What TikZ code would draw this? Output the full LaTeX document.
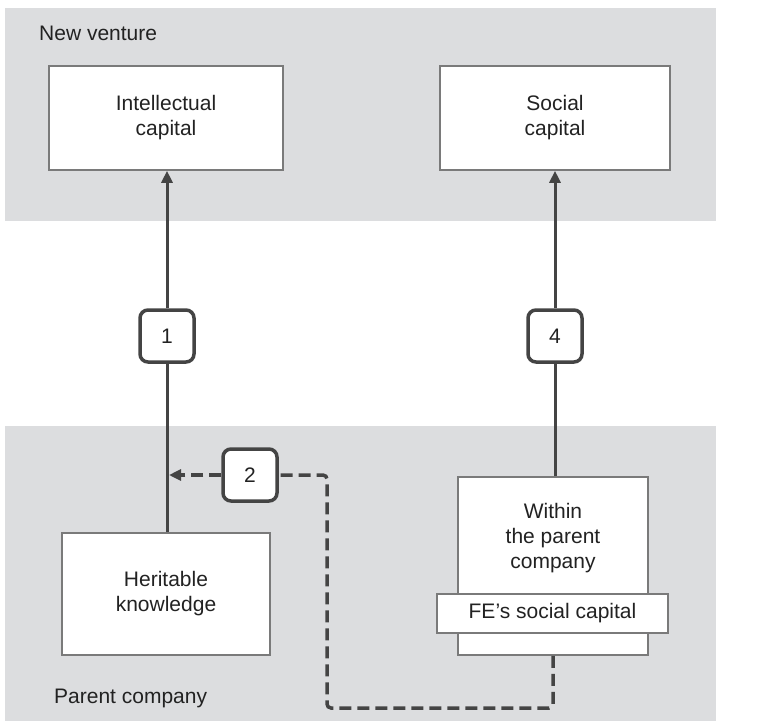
\documentclass[tikz,border=0pt]{standalone}
\usepackage{fontspec}
\setmainfont{Liberation Sans}
\usetikzlibrary{arrows.meta}
\definecolor{bandgray}{HTML}{DCDDDF}
\definecolor{boxline}{HTML}{7A7A7A}
\definecolor{linkdark}{HTML}{444444}
\definecolor{ink}{HTML}{222222}
\tikzset{
  band/.style={fill=bandgray, draw=none},
  capbox/.style={draw=boxline, line width=1.6pt, fill=white, inner sep=0pt,
    align=center, text=ink, font=\fontsize{21}{25}\selectfont},
  numbox/.style={draw=linkdark, line width=3.5pt, fill=white, rounded corners=8pt,
    minimum width=54pt, minimum height=52pt, inner sep=0pt, text=ink,
    font=\fontsize{21}{25}\selectfont},
  txt/.style={inner sep=0pt, align=center, text=ink, font=\fontsize{21}{25}\selectfont},
  link/.style={draw=linkdark, line width=3pt},
  flow/.style={link, -{Triangle[width=11pt,length=12pt]}},
  dashflow/.style={draw=linkdark, line width=3.5pt, dash pattern=on 12pt off 6pt,
    rounded corners=4pt},
}
\begin{document}
\begin{tikzpicture}[x=1pt,y=-1pt]
  \useasboundingbox (0,0) rectangle (759,726);
  % background bands
  \fill[band] (5,8) rectangle (716,221);
  \fill[band] (5,426) rectangle (716,721);
  \node[txt, anchor=west] (nv) at (39,33) {New venture};
  \node[txt, anchor=west] (pc) at (54,698) {Parent company};

  % capital boxes
  \node[capbox, minimum width=234pt, minimum height=104pt] (ic) at (166,118) {Intellectual\\capital};
  \node[capbox, minimum width=230pt, minimum height=104pt] (sc) at (555,118) {Social\\capital};
  \node[capbox, minimum width=208pt, minimum height=122pt] (hk) at (166,594) {Heritable\\knowledge};
  \node[capbox, minimum width=190pt, minimum height=178pt] (wpc) at (553,566) {};
  \node[txt] (wpct) at (553,538) {Within\\the parent\\company};
  \node[capbox, minimum width=231pt, minimum height=39pt] (fe) at (552.5,613.5) {FE’s social capital};

  % numbered links
  \node[numbox] (n1) at (167,336) {1};
  \node[numbox] (n4) at (555,336) {4};
  \node[numbox] (n2) at (250,475) {2};

  \draw[link] (hk.north -| n1.south) -- (n1.south);
  \draw[flow] (n1.north) -- (n1.north |- ic.south);
  \draw[link] (n4.south |- wpc.north) -- (n4.south);
  \draw[flow] (n4.north) -- (n4.north |- sc.south);

  % dashed feedback path
  \coordinate (j) at (169,475);
  \draw[dashflow] (wpc.south) -- (553,708) -- (327,708) -- (327,475) -- (n2.east);
  \draw[dashflow, rounded corners=0pt, -{Triangle[width=11pt,length=12pt]}] (n2.west) -- (j);
\end{tikzpicture}
\end{document}
